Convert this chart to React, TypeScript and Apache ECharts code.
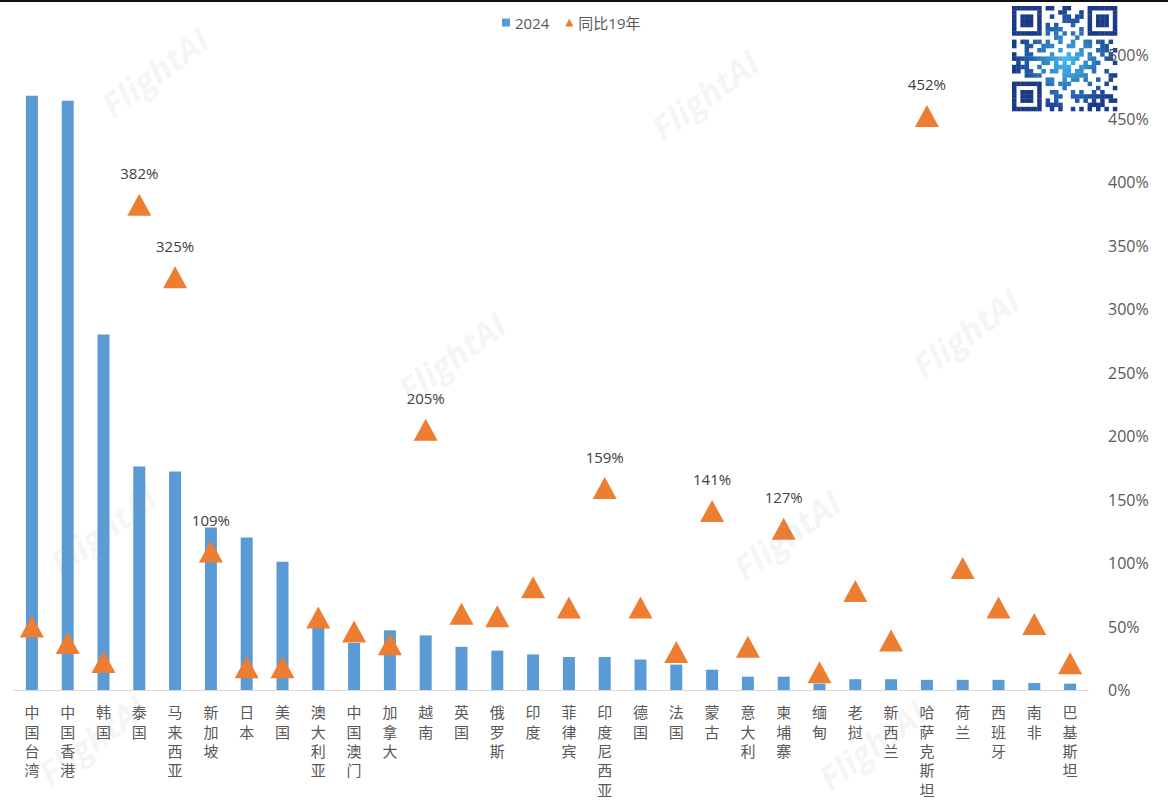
import React, { useEffect, useRef } from 'react';
import * as echarts from 'echarts';

// Destinations, ordered by 2024 volume
const categories = [
  '中国台湾', '中国香港', '韩国', '泰国', '马来西亚', '新加坡', '日本', '美国',
  '澳大利亚', '中国澳门', '加拿大', '越南', '英国', '俄罗斯', '印度', '菲律宾',
  '印度尼西亚', '德国', '法国', '蒙古', '意大利', '柬埔寨', '缅甸', '老挝',
  '新西兰', '哈萨克斯坦', '荷兰', '西班牙', '南非', '巴基斯坦',
];

// 2024 volume (bars, hidden left axis)
const volume2024 = [
  468, 464, 280, 176, 172, 128, 120, 101,
  49, 37, 47, 43, 34, 31, 28, 26,
  26, 24, 20, 16, 10.5, 10.5, 5, 8.5,
  8.5, 8, 8, 8, 5.5, 5,
];

// Ratio vs. 2019 in percent (triangles, right axis)
const vs2019 = [
  50, 37, 22, 382, 325, 109, 18, 18,
  57, 46, 36, 205, 60, 58, 81, 65,
  159, 65, 30, 141, 34, 127, 14, 78,
  39, 452, 96, 65, 52, 21,
];

// Points whose value is printed above the marker
const labelledCountries = ['泰国', '马来西亚', '新加坡', '越南', '印度尼西亚', '蒙古', '柬埔寨', '哈萨克斯坦'];

const rightAxisMax = 500;
const rightAxisStep = 50;

const TEXT = '#595959';
const FONT = '"Open Sans", "Noto Sans CJK SC", sans-serif';

// Watermark placements (centres)
const watermarkSpots: [number, number][] = [
  [155, 72], [705, 95], [452, 357], [966, 333],
  [103, 530], [787, 535], [92, 740], [872, 745],
];

function qrGraphic() {
  const n = 25;
  const size = 4.2;
  const ox = 1012;
  const oy = 6;
  const children: any[] = [
    { type: 'rect', shape: { x: -2, y: -2, width: n * size + 4, height: n * size + 4 }, style: { fill: '#ffffff' } },
  ];
  const inFinder = (r: number, c: number) => {
    const corners = [[0, 0], [0, n - 7], [n - 7, 0]];
    for (const [fr, fc] of corners) {
      const rr = r - fr;
      const cc = c - fc;
      if (rr >= -1 && rr <= 7 && cc >= -1 && cc <= 7) {
        if (rr < 0 || rr > 6 || cc < 0 || cc > 6) return 0; // separator
        if (rr === 0 || rr === 6 || cc === 0 || cc === 6) return 1;
        if (rr >= 2 && rr <= 4 && cc >= 2 && cc <= 4) return 1;
        return 0;
      }
    }
    return -1;
  };
  const mix = (t: number) => {
    const a = [63, 181, 240];
    const b = [24, 58, 138];
    const k = Math.min(1, Math.max(0, t));
    const ch = a.map((v, i) => Math.round(v + (b[i] - v) * k));
    return `rgb(${ch[0]},${ch[1]},${ch[2]})`;
  };
  for (let r = 0; r < n; r++) {
    for (let c = 0; c < n; c++) {
      const f = inFinder(r, c);
      let dark: boolean;
      let colour: string;
      if (f >= 0) {
        dark = f === 1;
        colour = '#1b3a86';
      } else {
        if (r === 6 || c === 6) {
          dark = (r + c) % 2 === 0;
        } else {
          const h = (r * 37 + c * 101 + r * c * 13 + ((r ^ c) * 5)) % 9;
          dark = h < 4;
        }
        const dx = (c - n / 2) / (n / 2);
        const dy = (r - n / 2) / (n / 2);
        colour = mix(Math.sqrt(dx * dx + dy * dy) * 1.05 - 0.05);
      }
      if (dark) {
        children.push({
          type: 'rect',
          shape: { x: c * size, y: r * size, width: size + 0.3, height: size + 0.3 },
          style: { fill: colour },
        });
      }
    }
  }
  return { type: 'group', x: ox, y: oy, z: 200, children };
}

function buildOption() {
  const scatterData = vs2019.map((v, i) =>
    labelledCountries.includes(categories[i]) ? { value: v, label: { show: true } } : v,
  );

  const watermarks = watermarkSpots.map(([x, y]) => ({
    type: 'text',
    x,
    y,
    rotation: 0.64,
    z: 150,
    silent: true,
    style: {
      text: 'FlightAI',
      fontSize: 34,
      fontWeight: 'bold',
      fontStyle: 'italic',
      fontFamily: '"Open Sans", sans-serif',
      fill: 'rgba(150,150,150,0.11)',
      align: 'center',
      verticalAlign: 'middle',
    },
  }));

  return {
    animation: false,
    backgroundColor: '#ffffff',
    textStyle: { fontFamily: FONT },
    legend: {
      left: 497,
      top: 10,
      itemWidth: 8,
      itemHeight: 8,
      itemGap: 16,
      textStyle: { fontSize: 15, color: TEXT, fontFamily: FONT },
      data: [
        { name: '2024', icon: 'rect' },
        { name: '同比19年', icon: 'triangle' },
      ],
    },
    grid: { left: 14, right: 80, top: 55, bottom: 111, containLabel: false, outerBoundsMode: 'none' },
    xAxis: {
      type: 'category',
      data: categories,
      axisLine: { lineStyle: { color: '#d9d9d9', width: 1 } },
      axisTick: { show: false },
      axisLabel: {
        interval: 0,
        margin: 12,
        fontSize: 15,
        lineHeight: 19.4,
        color: TEXT,
        fontFamily: '"Noto Sans CJK SC", sans-serif',
        formatter: (v: string) => v.split('').join('\n'),
      },
    },
    yAxis: [
      { type: 'value', min: 0, max: 500, show: false, splitLine: { show: false } },
      {
        type: 'value',
        position: 'right',
        min: 0,
        max: rightAxisMax,
        interval: rightAxisStep,
        axisLine: { show: false },
        axisTick: { show: false },
        splitLine: { show: false },
        axisLabel: { formatter: '{value}%', fontSize: 16, color: TEXT, margin: 20, fontFamily: FONT },
      },
    ],
    series: [
      {
        name: '2024',
        type: 'bar',
        yAxisIndex: 0,
        barWidth: 12,
        data: volume2024,
        itemStyle: { color: '#5B9BD5' },
      },
      {
        name: '同比19年',
        type: 'scatter',
        yAxisIndex: 1,
        symbol: 'triangle',
        symbolSize: [24, 22],
        itemStyle: { color: '#ED7D31', opacity: 1 },
        z: 3,
        label: {
          show: false,
          position: 'top',
          distance: 13,
          fontSize: 15,
          color: '#404040',
          fontFamily: FONT,
          formatter: (p: any) => `${p.value}%`,
        },
        data: scatterData,
      },
    ],
    graphic: [
      { type: 'rect', shape: { x: 0, y: 0, width: 1168, height: 2 }, style: { fill: '#111111' }, z: 300 },
      ...watermarks,
      qrGraphic(),
    ],
  };
}

export default function App() {
  const ref = useRef<HTMLDivElement>(null);
  useEffect(() => {
    document.body.style.margin = '0';
    const chart = echarts.init(ref.current as HTMLDivElement, null, { renderer: 'svg' });
    chart.setOption(buildOption() as any);
    return () => chart.dispose();
  }, []);
  return <div ref={ref} style={{ width: 1168, height: 801 }} />;
}
